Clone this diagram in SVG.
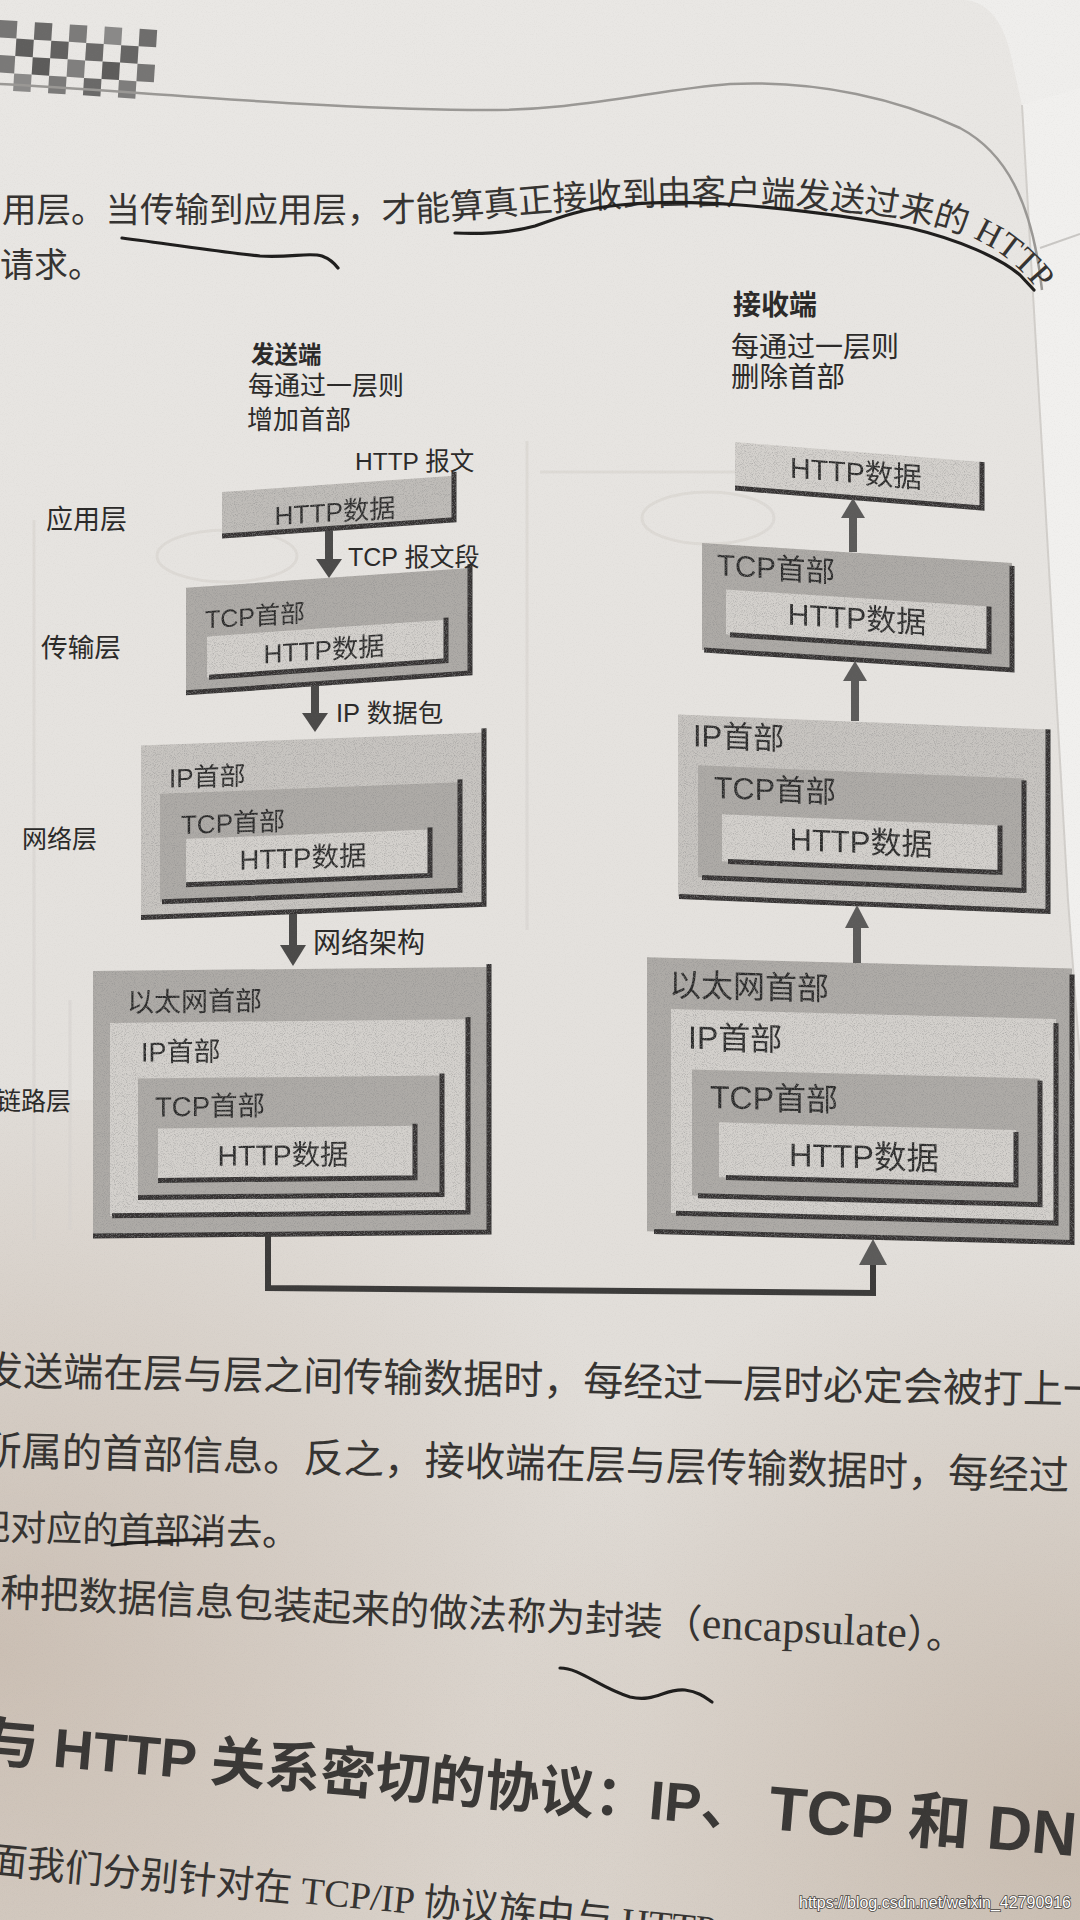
<svg xmlns="http://www.w3.org/2000/svg" width="1080" height="1920" viewBox="0 0 1080 1920">
<defs>
<style>
.dg{font-family:"Liberation Sans","Noto Sans CJK SC",sans-serif;fill:#2b2a29}
.dgb{font-family:"Liberation Sans","Noto Sans CJK SC",sans-serif;fill:#2b2a29;font-weight:700}
.bd{font-family:"Liberation Serif","Noto Sans CJK SC",serif;fill:#353331}
.hd{font-family:"Liberation Sans","Noto Sans CJK SC",sans-serif;font-weight:700;fill:#3a3836}
.lt{fill:#d4d1cd}
.l2{fill:#c8c5c1}
.gr{fill:#aeaba7}
.md{fill:#c0bdb9}
.ed{fill:none;stroke:#343332;stroke-width:5}
.sh{stroke:#4b4a49;stroke-width:8;fill:none}
.ah{fill:#4b4a49}
.shr{stroke:#5c5b5a;stroke-width:8;fill:none}
.ahr{fill:#5c5b5a}
.pen{fill:none;stroke:#1f1e1d;stroke-width:3.2;stroke-linecap:round;stroke-linejoin:round}
.ghost{fill:none;stroke:#d6d2cd;stroke-width:3}
</style>
<linearGradient id="pg" x1="0" y1="0" x2="0" y2="1">
<stop offset="0" stop-color="#e9e7e4"/>
<stop offset="0.6" stop-color="#e3e0dc"/>
<stop offset="1" stop-color="#ddd7d0"/>
</linearGradient>
<radialGradient id="bl" cx="0" cy="1650" r="650" gradientUnits="userSpaceOnUse">
<stop offset="0" stop-color="#a08670" stop-opacity="0.32"/>
<stop offset="1" stop-color="#a08670" stop-opacity="0"/>
</radialGradient>
<radialGradient id="br" cx="1080" cy="1820" r="600" gradientUnits="userSpaceOnUse">
<stop offset="0" stop-color="#9a8068" stop-opacity="0.32"/>
<stop offset="1" stop-color="#9a8068" stop-opacity="0"/>
</radialGradient>
<filter id="speck">
<feTurbulence type="fractalNoise" baseFrequency="1.1" numOctaves="1" seed="3" result="t"/>
<feColorMatrix in="t" type="matrix" values="0 0 0 0 0.25  0 0 0 0 0.25  0 0 0 0 0.25  0 0 0 -1.6 0.85" result="d"/>
<feComposite in="d" in2="SourceAlpha" operator="in" result="dm"/>
<feMerge><feMergeNode in="SourceGraphic"/><feMergeNode in="dm"/></feMerge>
</filter>
<filter id="grain" filterUnits="userSpaceOnUse" x="0" y="0" width="1080" height="1920">
<feTurbulence type="fractalNoise" baseFrequency="0.9" numOctaves="2" seed="11" result="t"/>
<feColorMatrix in="t" type="matrix" values="0 0 0 0 0.3  0 0 0 0 0.28  0 0 0 0 0.26  0 0 0 -1.5 0.8"/>
</filter>
<path id="l1" d="M2,222 L380,222 C460,222 520,212 600,208 C680,204 760,203 820,208 C880,213 930,222 965,235 C995,246 1020,265 1050,305"/>
</defs>

<!-- background & page -->
<rect x="0" y="0" width="1080" height="1920" fill="#efeeec"/>
<path d="M1022,105 L1080,88 L1080,1060 L1068,900 L1045,500 Z" fill="#f1f0ee"/>
<path d="M0,0 L965,0 C990,2 1005,25 1012,60 L1022,105 L1045,500 L1068,900 L1080,1060 L1080,1920 L0,1920 Z" fill="url(#pg)"/>
<rect x="0" y="1100" width="1080" height="820" fill="url(#bl)"/>
<rect x="0" y="1100" width="1080" height="820" fill="url(#br)"/>
<path d="M1040,248 L1080,234" stroke="#c9c7c4" stroke-width="2" fill="none"/>
<path d="M1022,105 L1045,500 L1068,900 L1080,1060" stroke="#d2cfcb" stroke-width="2" fill="none"/>

<!-- faint show-through from the reverse side -->
<g id="show-through" opacity="0.55">
<ellipse class="ghost" cx="227" cy="556" rx="70" ry="26"/>
<ellipse class="ghost" cx="708" cy="518" rx="66" ry="26"/>
<path class="ghost" d="M527,441 V930 M540,472 H735 M34,520 V1240 M70,1000 V1230"/>
</g>

<!-- page header -->
<g id="header">
<g transform="rotate(3.6 0 20)">
<rect x="0" y="20" width="17.5" height="17.5" fill="#767574"/>
<rect x="35" y="20" width="17.5" height="17.5" fill="#6a6968"/>
<rect x="70" y="20" width="17.5" height="17.5" fill="#7c7b7a"/>
<rect x="105" y="20" width="17.5" height="17.5" fill="#8a8988"/>
<rect x="140" y="20" width="17.5" height="17.5" fill="#6e6d6c"/>
<rect x="17.5" y="37.5" width="17.5" height="17.5" fill="#5f5e5d"/>
<rect x="52.5" y="37.5" width="17.5" height="17.5" fill="#626160"/>
<rect x="87.5" y="37.5" width="17.5" height="17.5" fill="#6a6968"/>
<rect x="122.5" y="37.5" width="17.5" height="17.5" fill="#666564"/>
<rect x="0" y="55" width="17.5" height="17.5" fill="#7a7978"/>
<rect x="35" y="55" width="17.5" height="17.5" fill="#5c5b5a"/>
<rect x="70" y="55" width="17.5" height="17.5" fill="#807f7e"/>
<rect x="105" y="55" width="17.5" height="17.5" fill="#5d5c5b"/>
<rect x="140" y="55" width="17.5" height="17.5" fill="#767574"/>
<rect x="17.5" y="72.5" width="17.5" height="17.5" fill="#8b8a89"/>
<rect x="52.5" y="72.5" width="17.5" height="17.5" fill="#7b7a79"/>
<rect x="87.5" y="72.5" width="17.5" height="17.5" fill="#6a6968"/>
<rect x="122.5" y="72.5" width="17.5" height="17.5" fill="#7e7d7c"/>
</g>
<path d="M0,84 C120,90 300,108 470,110 C580,112 650,90 730,84 C820,80 900,100 960,128 C1005,152 1032,200 1042,290" fill="none" stroke="#9a9895" stroke-width="2.5"/>
</g>

<!-- body text above diagram -->
<g id="text-top">
<text class="bd" font-size="34.5"><textPath href="#l1">用层。当传输到应用层，才能算真正接收到由客户端发送过来的 HTTP</textPath></text>
<text class="bd" x="0" y="277" font-size="34">请求。</text>
<path class="pen" d="M122,238 C170,244 220,252 260,256 C290,258 310,252 322,256 C330,259 335,264 338,268"/>
<path class="pen" d="M455,233 C480,234 510,233 535,226 C560,217 585,208 620,205 C660,201 700,202 740,205 C800,210 860,218 910,228 C960,240 1000,258 1020,275 L1034,290"/>
</g>

<!-- side notes -->
<g id="sender-note">
<text class="dgb" x="251" y="363" font-size="23.5">发送端</text>
<text class="dg" x="248" y="395" font-size="26">每通过一层则</text>
<text class="dg" x="247" y="429" font-size="26">增加首部</text>
</g>
<g id="receiver-note">
<text class="dgb" x="733" y="315" font-size="28">接收端</text>
<text class="dg" x="731" y="357" font-size="28">每通过一层则</text>
<text class="dg" x="731" y="387" font-size="28.5">删除首部</text>
</g>

<!-- layer labels -->
<g id="layer-labels">
<text class="dg" x="46" y="529" font-size="27">应用层</text>
<text class="dg" x="41" y="657" font-size="26.7">传输层</text>
<text class="dg" x="22" y="848" font-size="25">网络层</text>
<text class="dg" x="-4" y="1110" font-size="25">链路层</text>
</g>

<!-- sender nodes -->
<g id="send-app" filter="url(#speck)">
<g transform="translate(337 506) skewY(-4) translate(-337 -506)">
<rect class="md" x="222" y="484" width="232" height="44"/>
<path class="ed" d="M454,480V528H222"/>
<text class="dg" x="335" y="521" font-size="26.2" text-anchor="middle">HTTP数据</text>
</g>
</g>
<text class="dg" x="355" y="470" font-size="24.5">HTTP 报文</text>

<g id="send-transport" filter="url(#speck)">
<g transform="translate(327 630) skewY(-4) translate(-327 -630)">
<rect class="gr" x="186" y="578" width="284" height="105"/>
<path class="ed" d="M470,574V683H186"/>
<text class="dg" x="205" y="620" font-size="25">TCP首部</text>
<rect class="lt" x="207" y="628" width="239" height="41"/>
<path class="ed" d="M446,626V669H209"/>
<text class="dg" x="324" y="659" font-size="26.2" text-anchor="middle">HTTP数据</text>
</g>
</g>

<g id="send-network" filter="url(#speck)">
<g transform="translate(312 825) skewY(-2.2) translate(-312 -825)">
<rect class="l2" x="141" y="739" width="343" height="172"/>
<path class="ed" d="M484,735V911H141"/>
<text class="dg" x="169" y="782" font-size="26">IP首部</text>
<rect class="gr" x="160" y="788" width="300" height="108"/>
<path class="ed" d="M460,785V896H162"/>
<text class="dg" x="181" y="829" font-size="26">TCP首部</text>
<rect class="lt" x="186" y="834" width="244" height="46"/>
<path class="ed" d="M430,832V880H186"/>
<text class="dg" x="303" y="867" font-size="27.5" text-anchor="middle">HTTP数据</text>
</g>
</g>

<g id="send-link" filter="url(#speck)">
<g transform="translate(291 1100) skewY(-0.6) translate(-291 -1100)">
<rect class="gr" x="93" y="969" width="396" height="265"/>
<path class="ed" d="M489,966V1234H93"/>
<text class="dg" x="127" y="1010" font-size="27">以太网首部</text>
<rect class="lt" x="110" y="1021" width="358" height="193"/>
<path class="ed" d="M468,1019V1214H112"/>
<text class="dg" x="141" y="1060" font-size="27">IP首部</text>
<rect class="gr" x="138" y="1077" width="304" height="119"/>
<path class="ed" d="M442,1075V1196H138"/>
<text class="dg" x="155" y="1115" font-size="27.5">TCP首部</text>
<rect class="lt" x="158" y="1127" width="257" height="52"/>
<path class="ed" d="M415,1125V1179H158"/>
<text class="dg" x="283" y="1165" font-size="28.4" text-anchor="middle">HTTP数据</text>
</g>
</g>

<!-- receiver nodes -->
<g id="recv-app" filter="url(#speck)">
<g transform="translate(858 475) skewY(4.6) translate(-858 -475)">
<rect class="lt" x="735" y="452" width="247" height="46"/>
<path class="ed" d="M982,452V498H735"/>
<text class="dg" x="856" y="483" font-size="28.6" text-anchor="middle">HTTP数据</text>
</g>
</g>

<g id="recv-transport" filter="url(#speck)">
<g transform="translate(858 605) skewY(3.7) translate(-858 -605)">
<rect class="gr" x="702" y="553" width="310" height="107"/>
<path class="ed" d="M1012,556V660H704"/>
<text class="dg" x="717" y="584" font-size="29.5">TCP首部</text>
<rect class="lt" x="726" y="598" width="263" height="45"/>
<path class="ed" d="M989,598V643H730"/>
<text class="dg" x="857" y="629" font-size="30" text-anchor="middle">HTTP数据</text>
</g>
</g>

<g id="recv-network" filter="url(#speck)">
<g transform="translate(863 812) skewY(2.3) translate(-863 -812)">
<rect class="l2" x="678" y="722" width="370" height="182"/>
<path class="ed" d="M1048,722V904H679"/>
<text class="dg" x="693" y="753" font-size="31">IP首部</text>
<rect class="gr" x="698" y="772" width="326" height="112"/>
<path class="ed" d="M1024,774V884H702"/>
<text class="dg" x="714" y="804" font-size="30.5">TCP首部</text>
<rect class="lt" x="722" y="820" width="278" height="47"/>
<path class="ed" d="M1000,820V867H728"/>
<text class="dg" x="861" y="853" font-size="31" text-anchor="middle">HTTP数据</text>
</g>
</g>

<g id="recv-link" filter="url(#speck)">
<g transform="translate(862 1100) skewY(1.5) translate(-862 -1100)">
<rect class="gr" x="647" y="963" width="425" height="274"/>
<path class="ed" d="M1072,969V1237H654"/>
<text class="dg" x="669" y="1001" font-size="32">以太网首部</text>
<rect class="lt" x="671" y="1014" width="385" height="204"/>
<path class="ed" d="M1056,1018V1218H676"/>
<text class="dg" x="688" y="1053" font-size="32">IP首部</text>
<rect class="gr" x="692" y="1074" width="348" height="126"/>
<path class="ed" d="M1040,1076V1200H698"/>
<text class="dg" x="710" y="1112" font-size="32">TCP首部</text>
<rect class="lt" x="719" y="1126" width="297" height="55"/>
<path class="ed" d="M1016,1128V1181H726"/>
<text class="dg" x="864" y="1168" font-size="32.5" text-anchor="middle">HTTP数据</text>
</g>
</g>

<!-- connectors -->
<g id="connectors">
<path class="sh" d="M329,531V562"/><polygon class="ah" points="316,559 342,559 329,578"/>
<text class="dg" x="348" y="566" font-size="25">TCP 报文段</text>
<path class="sh" d="M315,686V716"/><polygon class="ah" points="302,713 328,713 315,732"/>
<text class="dg" x="336" y="722" font-size="25.5">IP 数据包</text>
<path class="sh" d="M293,914V948"/><polygon class="ah" points="280,945 306,945 293,966"/>
<text class="dg" x="313" y="953" font-size="28">网络架构</text>
<path d="M268,1234 V1288 L873,1293 V1262" fill="none" stroke="#3c3b3a" stroke-width="6"/>
<polygon class="ahr" points="859,1265 887,1265 873,1239"/>
<path class="shr" d="M857,963V925"/><polygon class="ahr" points="845,928 869,928 857,905"/>
<path class="shr" d="M855,721V678"/><polygon class="ahr" points="843,681 867,681 855,661"/>
<path class="shr" d="M853,552V514"/><polygon class="ahr" points="841,518 865,518 853,498"/>
</g>

<!-- body text below diagram -->
<g id="text-bottom">
<text class="bd" x="-17" y="1385" font-size="40" transform="rotate(1.0 0 1385)">发送端在层与层之间传输数据时，每经过一层时必定会被打上一</text>
<text class="bd" x="-19" y="1465" font-size="40.3" transform="rotate(1.33 0 1465)">所属的首部信息。反之，接收端在层与层传输数据时，每经过</text>
<text class="bd" x="-26" y="1540" font-size="36" transform="rotate(1.2 0 1540)">把对应的首部消去。</text>
<path class="pen" d="M112,1545 C140,1542 170,1540 212,1539" stroke-width="4"/>
<text class="bd" x="0" y="1606" font-size="39" transform="rotate(2.6 0 1606)">种把数据信息包装起来的做法称为封装（<tspan font-size="44">encapsulate</tspan>）。</text>
<path class="pen" d="M560,1668 C580,1668 600,1688 630,1697 C655,1703 665,1688 685,1690 C700,1692 706,1698 712,1702"/>
<text class="hd" x="-18" y="1762" font-size="55" transform="rotate(5 0 1762)">与 HTTP 关系密切的协议：IP、<tspan dx="13" font-size="62">TCP 和 DN</tspan></text>
<text class="bd" x="-12" y="1874" font-size="38" transform="rotate(5.5 0 1874)">面我们分别针对在 TCP/IP 协议族中与 HTTP</text>
</g>

<rect x="0" y="0" width="1080" height="1920" filter="url(#grain)" opacity="0.1"/>

<text x="799" y="1908" font-family="Liberation Sans, sans-serif" font-size="16" textLength="272" lengthAdjust="spacingAndGlyphs" fill="#ffffff" stroke="#4a4642" stroke-width="1.6" paint-order="stroke">https://blog.csdn.net/weixin_42790916</text>
</svg>
